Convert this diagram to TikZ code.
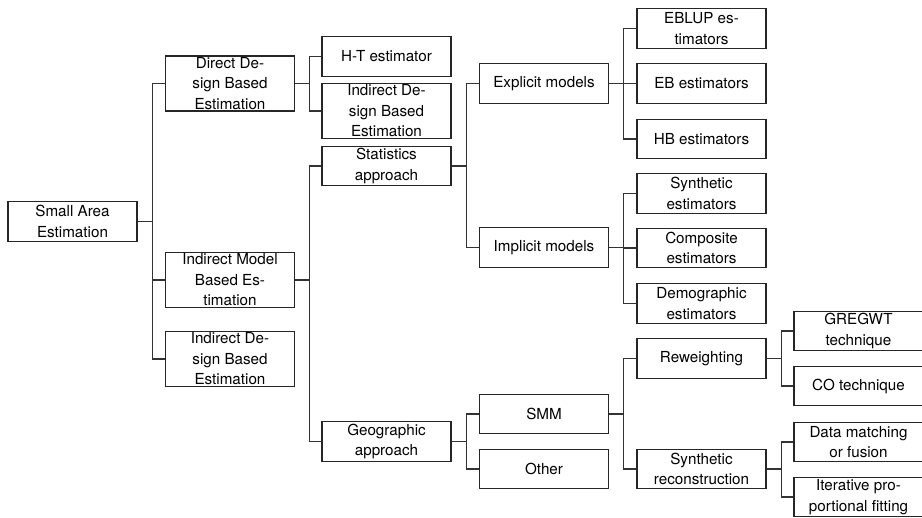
\documentclass[tikz,border=0pt]{standalone}
\usepackage{fontspec}
\setmainfont{TeX Gyre Heros}
\begin{document}
\begin{tikzpicture}[x=0.75pt, y=-0.75pt,
    box/.style={draw=black!85, line width=0.8pt, align=center, minimum width=96.75pt,
      minimum height=29.5pt, inner xsep=2pt, inner ysep=1pt,
      font=\fontsize{11.4}{15.4}\selectfont},
    link/.style={draw=black!80, line width=0.8pt}]
  \clip (0,0) rectangle (922,518);
  % root
  \node[box] (sae) at (72.5,221.5) {Small Area\\Estimation};
  % first level
  \node[box] (ddbe) at (230,83.5) {Direct De-\\sign Based\\Estimation};
  \node[box] (imbe) at (230,280) {Indirect Model\\Based Es-\\timation};
  \node[box] (idbe) at (230,359) {Indirect De-\\sign Based\\Estimation};
  % second level
  \node[box] (ht) at (386.5,56.5) {H-T estimator};
  \node[box] (idbetwo) at (386.5,111) {Indirect De-\\sign Based\\Estimation};
  \node[box] (stat) at (386.5,166) {Statistics\\approach};
  \node[box] (geo) at (386.5,441.5) {Geographic\\approach};
  % third level
  \node[box] (expl) at (544,83.5) {Explicit models};
  \node[box] (impl) at (544,247.5) {Implicit models};
  \node[box] (smm) at (544,414) {SMM};
  \node[box] (other) at (544,469) {Other};
  % fourth level
  \node[box] (eblup) at (701.5,28.5) {EBLUP es-\\timators};
  \node[box] (eb) at (701.5,83.5) {EB estimators};
  \node[box] (hb) at (701.5,139) {HB estimators};
  \node[box] (synth) at (701.5,193.5) {Synthetic\\estimators};
  \node[box] (comp) at (701.5,248) {Composite\\estimators};
  \node[box] (demo) at (701.5,303.5) {Demographic\\estimators};
  \node[box] (rew) at (701.5,358.5) {Reweighting};
  \node[box] (srec) at (701.5,469) {Synthetic\\reconstruction};
  % fifth level
  \node[box] (greg) at (858.5,331) {GREGWT\\technique};
  \node[box] (co) at (858.5,386) {CO technique};
  \node[box] (data) at (858.5,442) {Data matching\\or fusion};
  \node[box] (iter) at (858.5,497) {Iterative pro-\\portional fitting};
  % elbow connectors
  \foreach \p/\c in {sae/ddbe, sae/imbe, sae/idbe,
      ddbe/ht, ddbe/idbetwo, imbe/stat, imbe/geo,
      stat/expl, stat/impl, geo/smm, geo/other,
      expl/eblup, expl/eb, expl/hb, impl/synth, impl/comp, impl/demo,
      smm/rew, smm/srec, rew/greg, rew/co, srec/data, srec/iter}
    \draw[link] (\p.east) -- ++(14.5,0) |- (\c.west);
\end{tikzpicture}
\end{document}
